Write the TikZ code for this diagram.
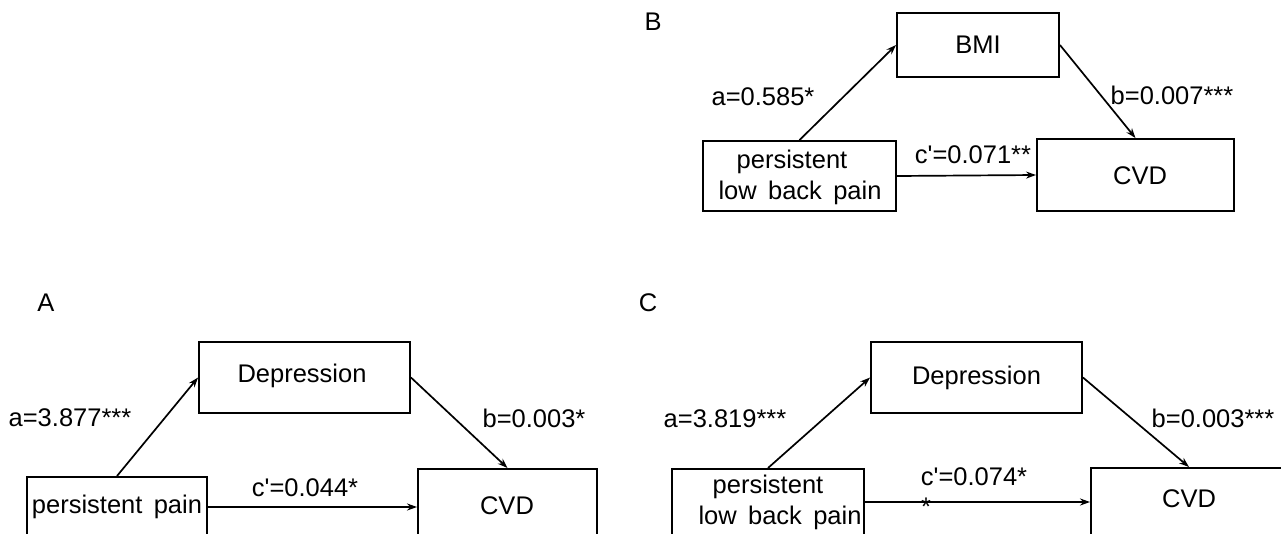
\documentclass[tikz,border=0pt]{standalone}
\usepackage{fontspec}
\setmainfont{Liberation Sans}
\usetikzlibrary{arrows.meta}
\tikzset{
  box/.style={draw, line width=1.9pt, inner sep=0pt},
  lbl/.style={inner sep=0pt, font=\fontsize{25.5}{30}\selectfont},
  conn/.style={line width=1.7pt, -{Stealth[length=10pt,width=7pt]}},
}
\begin{document}
\begin{tikzpicture}[x=1pt,y=-1pt]
\useasboundingbox (0,0) rectangle (1281,533);
\fill[white] (0,0) rectangle (1281,533);
\clip (0,0) rectangle (1281,533);
% Panel B
\node[lbl] (labB) at (653,22) {B};
\node[box, minimum width=162, minimum height=64] (bmi) at (978,45) {};
\node[lbl] (bmit) at (bmi) {BMI};
\node[box, minimum width=193, minimum height=70] (plbpB) at (799.5,176) {};
\node[lbl] (plbpBt1) at (792,162) {persistent};
\node[lbl] (plbpBt2) at (800,193) {low\, back\, pain};
\node[box, minimum width=197, minimum height=72] (cvdB) at (1135.5,175) {};
\node[lbl] (cvdBt) at (1140,176) {CVD};
\draw[conn] (plbpB.north) -- (bmi.west);
\draw[conn] (bmi.east) -- (cvdB.north);
\draw[conn] (plbpB.east) -- (cvdB.west);
\node[lbl] (aB) at (763,97) {a=0.585*};
\node[lbl] (bB) at (1172,95) {b=0.007***};
\node[lbl] (cB) at (973,155) {c\textquotesingle=0.071**};
% Panel A
\node[lbl] (labA) at (46,303) {A};
\node[box, minimum width=211, minimum height=71] (depA) at (304.5,377.5) {};
\node[lbl] (depAt) at (302,376) {Depression};
\node[box, minimum width=180, minimum height=100, anchor=north] (ppA) at (117,476) {};
\node[lbl] (ppAt) at (117,507) {persistent\, pain};
\node[box, minimum width=179, minimum height=100, anchor=north] (cvdA) at (507.5,468) {};
\node[lbl] (cvdAt) at (507,506) {CVD};
\draw[conn] (ppA.north) -- (depA.west);
\draw[conn] (depA.east) -- (cvdA.north);
\draw[conn] (ppA.east |- ppAt) -- (cvdA.west |- ppAt);
\node[lbl] (aA) at (70,418) {a=3.877***};
\node[lbl] (bA) at (534,418) {b=0.003*};
\node[lbl] (cA) at (305,488) {c\textquotesingle=0.044*};
% Panel C
\node[lbl] (labC) at (648,303) {C};
\node[box, minimum width=211, minimum height=71] (depC) at (976.5,377.5) {};
\node[lbl] (depCt) at (depC) {Depression};
\node[box, minimum width=192, minimum height=100, anchor=north] (plbpC) at (768,468) {};
\node[lbl] (plbpCt1) at (768,487) {persistent};
\node[lbl] (plbpCt2) at (780,518) {low\, back\, pain};
\node[box, minimum width=210, minimum height=100, anchor=north] (cvdC) at (1196,467) {};
\node[lbl] (cvdCt) at (1189,499) {CVD};
\coordinate (cC) at (0,502);
\draw[conn] (plbpC.north) -- (depC.west);
\draw[conn] (depC.east) -- (cvdC.north -| cvdCt);
\draw[conn] (plbpC.east |- cC) -- (cvdC.west |- cC);
\node[lbl] (aC) at (725,419) {a=3.819***};
\node[lbl] (bC) at (1213,418) {b=0.003***};
\node[lbl] (cC1) at (974,477) {c\textquotesingle=0.074*};
\node[lbl] (cC2) at (926,507) {*};
\end{tikzpicture}
\end{document}
